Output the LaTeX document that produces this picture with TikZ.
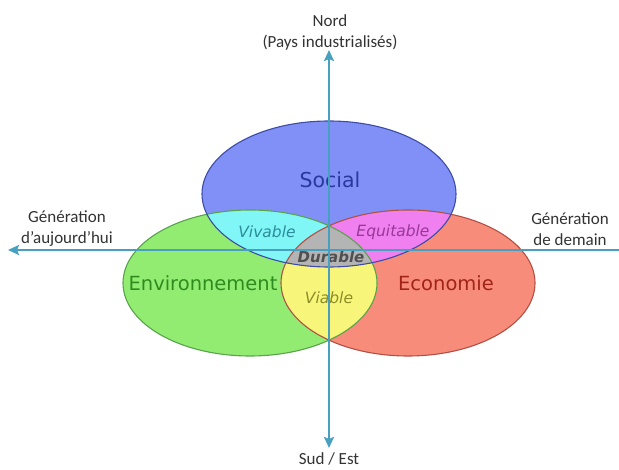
\documentclass[tikz,border=0pt]{standalone}
\usepackage{fontspec}
\setmainfont{Carlito}
\newfontfamily\verdana{DejaVu Sans}
\usetikzlibrary{arrows.meta}
\definecolor{axecol}{RGB}{72,160,192}
\definecolor{socfill}{RGB}{128,144,246}
\definecolor{envfill}{RGB}{146,236,114}
\definecolor{ecofill}{RGB}{248,140,122}
\definecolor{vivfill}{RGB}{128,246,246}
\definecolor{equfill}{RGB}{240,128,240}
\definecolor{viafill}{RGB}{248,246,122}
\definecolor{durfill}{RGB}{180,180,180}
\definecolor{soctext}{RGB}{40,56,156}
\definecolor{envtext}{RGB}{46,140,30}
\definecolor{ecotext}{RGB}{160,36,24}
\definecolor{vivtext}{RGB}{44,140,156}
\definecolor{equtext}{RGB}{150,56,150}
\definecolor{viatext}{RGB}{140,140,40}
\definecolor{durtext}{RGB}{80,80,80}
\begin{document}
\begin{tikzpicture}[
		x=1pt, y=-1pt,
		axe/.style={draw=axecol, line width=2.6pt},
		pole/.style={font=\fontsize{17}{21}\selectfont, text=black!80, align=center, inner sep=0pt},
		sphere/.style={font=\verdana\fontsize{19.5}{23}\selectfont, inner sep=0pt},
		zone/.style={font=\verdana\itshape\fontsize{15.5}{18}\selectfont, inner sep=0pt},
		rim/.style={line width=1.1pt}
	]
	\useasboundingbox[fill=white] (0,0) rectangle (619,470);
	\def\soc{(329,194) ellipse [x radius=127, y radius=73]}
	\def\env{(250,283) ellipse [x radius=127, y radius=73]}
	\def\eco{(408,283) ellipse [x radius=127, y radius=73]}
	\fill[envfill] \env;
	\fill[ecofill] \eco;
	\fill[socfill] \soc;
	\begin{scope}
		\clip \env;
		\fill[viafill] \eco;
		\fill[vivfill] \soc;
	\end{scope}
	\begin{scope}
		\clip \eco;
		\fill[equfill] \soc;
		\clip \env;
		\fill[durfill] \soc;
	\end{scope}
	\draw[rim, draw=envtext!80] \env;
	\draw[rim, draw=ecotext!80] \eco;
	\draw[rim, draw=soctext!90] \soc;

	\node[sphere, text=soctext, font=\verdana\fontsize{20.5}{24}\selectfont] (social) at (330,180) {Social};
	\node[sphere, text=envtext] (environnement) at (203,283) {Environnement};
	\node[sphere, text=ecotext] (economie) at (446,283) {Economie};
	\node[zone, text=vivtext] (vivable) at (267,232) {Vivable};
	\node[zone, text=equtext] (equitable) at (393,232) {Equitable};
	\node[zone, text=viatext] (viable) at (329,298) {Viable};
	\node[zone, text=durtext, font=\verdana\bfseries\itshape\fontsize{15}{18}\selectfont] (durable) at (331,257) {Durable};

	\coordinate (haut) at (329,50);
	\coordinate (bas) at (329,448);
	\coordinate (gauche) at (8,250);
	\coordinate (droite) at (619,250);
	\draw[axe, {Stealth[length=11pt,width=10pt,inset=2pt]}-{Stealth[length=11pt,width=10pt,inset=2pt]}] (haut) -- (bas);
	\draw[axe, {Stealth[length=11pt,width=10pt,inset=2pt]}-] (gauche) -- (droite);

	\node[pole] (nord) at (330,32) {Nord\\(Pays industrialisés)};
	\node[pole] (sud) at (329,459) {Sud / Est};
	\node[pole] (passe) at (67,229) {Génération\\d’aujourd’hui};
	\node[pole] (futur) at (570,229) {Génération\\de demain};
\end{tikzpicture}
\end{document}
